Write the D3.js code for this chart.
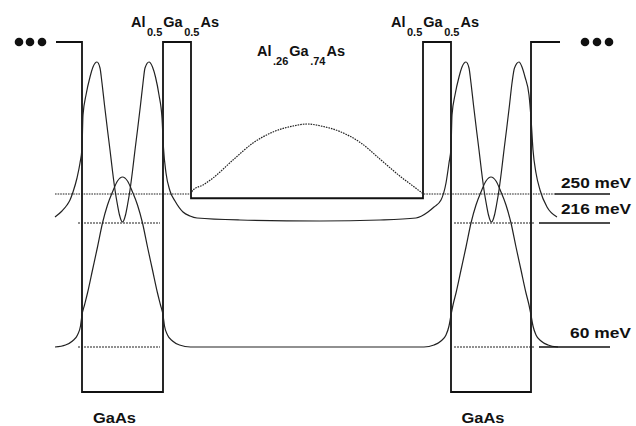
<!DOCTYPE html>
<html>
<head>
<meta charset="utf-8">
<script src="https://cdn.jsdelivr.net/npm/d3@7"></script>
<style>
  html, body { margin: 0; padding: 0; background: #fff; }
  svg { display: block; }
  text { font-family: "Liberation Sans", Arial, Helvetica, sans-serif; font-weight: bold; fill: #111; }
</style>
</head>
<body>
<svg id="chart"></svg>
<script>
// layer stack, left to right: thickness (Å) and conduction band edge (meV)
const layerNames = ["Al0.5Ga0.5As", "GaAs", "Al0.5Ga0.5As", "Al.26Ga.74As", "Al0.5Ga0.5As", "GaAs", "Al0.5Ga0.5As"];
const layerWidths = [26, 81, 28, 232, 28, 80, 29];
const bandEdges = [440, 0, 440, 245, 440, 0, 440];

const levelEnergies = [250, 216, 60];
const levelLabels = ["250 meV", "216 meV", "60 meV"];

// |psi|^2 in a.u. against position in Å (0 = left edge of first GaAs well)
const psi60 = [[-27,0],[-16.5,0.2],[-9.5,0.6],[-4.5,1.2],[-1.5,2.1],[0,3.2],[2.5,4.2],[5.5,5.4],[10.5,7.7],
  [15.5,10.0],[20.5,12.4],[25.5,14.2],[30.5,15.5],[35.5,16.6],[40.5,17.0],[45.5,16.6],[50.5,15.5],[55.5,14.2],
  [60.5,12.4],[65.5,10.0],[70.5,7.7],[75.5,5.4],[78.5,4.2],[81,3.2],[82.5,2.1],[85.5,1.2],[90.5,0.6],[97.5,0.2],
  [108.5,0],[200,0],[342,0],[352,0.2],[359,0.6],[364,1.2],[367,2.1],[369,3.2],[371,4.2],[374,5.4],[379,7.7],
  [384,10.0],[389,12.4],[394,14.2],[399,15.5],[404,16.6],[409,17.0],[414,16.6],[419,15.5],[424,14.2],[429,12.4],
  [434,10.0],[439,7.7],[444,5.4],[447,4.2],[449,3.2],[451,2.1],[454,1.2],[459,0.6],[466,0.2],[476,0]];

const psi216 = [[-27,0.6],[-20,1.2],[-15,1.8],[-12,2.3],[-9,3.1],[-5,4.5],[-2,6.0],[0,7.5],[1,10.8],[4,12.8],
  [8,14.6],[11,15.6],[15,16.1],[18,15.5],[20,14.0],[22.5,11.8],[25.5,9.3],[28,7.3],[30.5,5.2],[33,3.3],[35.5,1.8],
  [37.5,0.8],[40.5,0.1],[43.5,0.8],[45.5,1.8],[48,3.3],[50.5,5.2],[53,7.3],[55.5,9.3],[58.5,11.8],[61,14.0],
  [63,15.5],[67,16.1],[70.5,15.6],[73.5,14.6],[77,12.8],[80,10.5],[81.5,7.5],[84,5.0],[88,3.2],[93,2.2],[101,1.1],
  [108,0.7],[115,0.5],[158,0.3],[238,0.2],[298,0.3],[334,0.5],[346,1.1],[352,1.6],[359,2.3],[364,4.0],[367,6.0],
  [369,7.5],[370,10.8],[373,12.8],[377,14.6],[380,15.6],[384,16.1],[387,15.5],[389,14.0],[391.5,11.8],[394.5,9.3],
  [397,7.3],[399.5,5.2],[402,3.3],[404.5,1.8],[406.5,0.8],[409.5,0.1],[412.5,0.8],[414.5,1.8],[417,3.3],[419.5,5.2],
  [422,7.3],[424.5,9.3],[427.5,11.8],[430,14.0],[432.5,15.5],[437,16.1],[440,15.6],[443,14.6],[447,12.8],[449,10.5],
  [451,7.3],[454,5.0],[458,3.3],[465,1.6],[475,0.6]];

const psi250 = [[-27,0],[108,0],[111,0.4],[121,0.9],[131,1.6],[151,3.4],[171,5.1],[191,6.2],[211,6.8],[225,7.0],
  [239,6.8],[259,6.2],[279,5.1],[299,3.4],[319,1.7],[331,0.8],[339,0.2],[342,0],[474,0]];

const width = 636, height = 426;
const zStart = -26;

const svg = d3.select("#chart").attr("width", width).attr("height", height);

const x = d3.scaleLinear().domain([0, 100]).range([82, 182]);
// the figure is schematic: energy axis is piecewise linear through the marked levels
const y = d3.scaleLinear().domain([0, 60, 216, 250, 440]).range([392, 347, 223, 194, 42]);
const amp = d3.scaleLinear().domain([0, 10]).range([0, 100]);

// layer boundaries
let zAcc = zStart;
const layers = layerNames.map((name, i) => {
  const l = { name, z0: zAcc, z1: zAcc + layerWidths[i], E: bandEdges[i] };
  zAcc += layerWidths[i];
  return l;
});
const wells = layers.filter(l => l.name === "GaAs");

// band profile
const bandPts = layers.map(l => [l.z0, l.E]);
bandPts.push([zAcc, bandEdges[bandEdges.length - 1]]);
svg.append("path")
  .datum(bandPts)
  .attr("d", d3.line().x(d => x(d[0])).y(d => y(d[1])).curve(d3.curveStepAfter))
  .attr("fill", "none")
  .attr("stroke", "#111")
  .attr("stroke-width", 1.8);

// "..." continuation dots
const dotsL = [-37, -26, -14], dotsR = [25, 37, 49];
svg.selectAll("circle.dl").data(dotsL).enter().append("circle")
  .attr("cx", d => x(zStart) + d).attr("cy", y(440)).attr("r", 4.3).attr("fill", "#111");
svg.selectAll("circle.dr").data(dotsR).enter().append("circle")
  .attr("cx", d => x(zAcc) + d).attr("cy", y(440)).attr("r", 4.3).attr("fill", "#111");

// wavefunctions
const wf = E => d3.line().x(d => x(d[0])).y(d => y(E) - amp(d[1])).curve(d3.curveMonotoneX);
[[psi60, 60], [psi216, 216]].forEach(([data, E]) => {
  svg.append("path").datum(data).attr("d", wf(E))
    .attr("fill", "none").attr("stroke", "#222").attr("stroke-width", 1.2);
});
svg.append("path").datum(psi250).attr("d", wf(250))
  .attr("fill", "none").attr("stroke", "#222").attr("stroke-width", 1.2)
  .attr("stroke-dasharray", "1.6,1");

// bound-level marks inside the GaAs wells
[216, 60].forEach(E => {
  wells.forEach((w, i) => {
    const a = i === 0 ? w.z0 - 4 : w.z0 + 3;
    const b = i === 0 ? w.z1 - 3 : w.z1 + 4;
    svg.append("line")
      .attr("x1", x(a)).attr("x2", x(b)).attr("y1", y(E)).attr("y2", y(E))
      .attr("stroke", "#222").attr("stroke-width", 1.2).attr("stroke-dasharray", "2,1");
  });
});

// level leaders and labels on the right
const lastWell = wells[wells.length - 1];
levelEnergies.forEach((E, i) => {
  const x1 = E === 250 ? x(lastWell.z1) + 24 : x(lastWell.z1) + 8;
  svg.append("line")
    .attr("x1", x1).attr("x2", x(lastWell.z1) + 79)
    .attr("y1", y(E)).attr("y2", y(E))
    .attr("stroke", "#111").attr("stroke-width", 1.3);
  svg.append("text")
    .attr("x", 631).attr("y", y(E) - (E === 250 ? 6 : 9))
    .attr("text-anchor", "end")
    .attr("font-size", 15)
    .attr("textLength", E === 60 ? 61 : 70)
    .attr("lengthAdjust", "spacingAndGlyphs")
    .text(levelLabels[i]);
});

// chemical formula labels with subscripts
function formula(sel, name) {
  const parts = name.match(/[A-Z][a-z]?|[.\d]+/g);
  let sub = false;
  parts.forEach(p => {
    const isNum = /^[.\d]/.test(p);
    const t = sel.append("tspan").text(p);
    if (isNum) { t.attr("font-size", 11).attr("dy", 9).attr("dx", 1.5); sub = true; }
    else if (sub) { t.attr("dy", -9).attr("dx", 1); sub = false; }
  });
}

layers.forEach((l, i) => {
  if (i === 0 || i === layers.length - 1) return;
  const cx = x((l.z0 + l.z1) / 2);
  if (l.name === "GaAs") {
    svg.append("text").attr("x", cx - 8).attr("y", 423)
      .attr("text-anchor", "middle").attr("font-size", 15)
      .attr("textLength", 43).attr("lengthAdjust", "spacingAndGlyphs")
      .text(l.name);
  } else if (l.E === 440) {
    formula(svg.append("text").attr("x", cx - 2).attr("y", 27)
      .attr("text-anchor", "middle").attr("font-size", 14.5), l.name);
  } else {
    formula(svg.append("text").attr("x", cx - 6).attr("y", 56)
      .attr("text-anchor", "middle").attr("font-size", 14.5), l.name);
  }
});
</script>
</body>
</html>
